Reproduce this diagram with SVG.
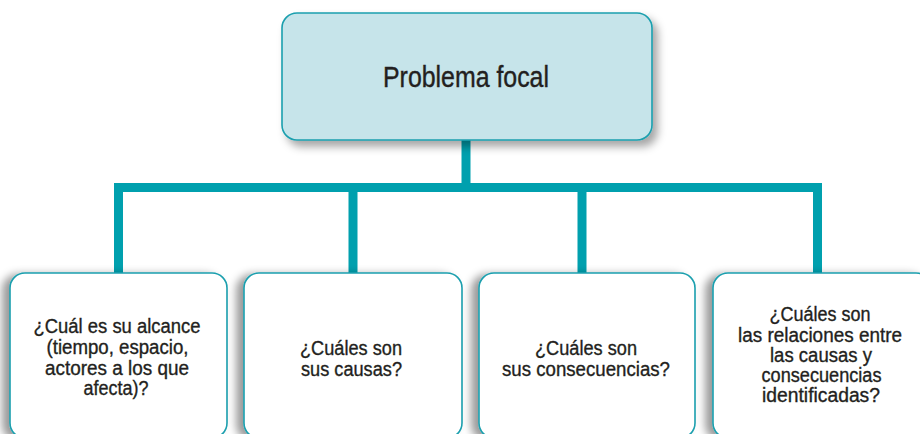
<svg xmlns="http://www.w3.org/2000/svg" width="920" height="434" viewBox="0 0 920 434">
  <defs>
    <filter id="shTop" x="-10%" y="-20%" width="130%" height="150%">
      <feGaussianBlur in="SourceAlpha" stdDeviation="4"/>
      <feOffset dx="5" dy="6" result="b"/>
      <feFlood flood-color="#000" flood-opacity="0.35"/>
      <feComposite in2="b" operator="in"/>
      <feMerge><feMergeNode/><feMergeNode in="SourceGraphic"/></feMerge>
    </filter>
    <filter id="shBot" x="-20%" y="-20%" width="140%" height="140%">
      <feGaussianBlur in="SourceAlpha" stdDeviation="4"/>
      <feOffset dx="-7" dy="2" result="b"/>
      <feFlood flood-color="#000" flood-opacity="0.4"/>
      <feComposite in2="b" operator="in"/>
      <feMerge><feMergeNode/><feMergeNode in="SourceGraphic"/></feMerge>
    </filter>
  </defs>
  <style>
    .conn { stroke: #00a0ae; stroke-width: 9; fill: none; stroke-linecap: butt; }
    .box { fill: #ffffff; stroke: #1a9fae; stroke-width: 1.6; }
    .top { fill: #c6e4ea; stroke: #1a9fae; stroke-width: 1.6; }
    .t { font-family: "Liberation Sans", Arial, sans-serif; font-size: 20px; fill: #231f20; stroke: #231f20; stroke-width: 0.35; text-anchor: middle; }
    .tt { font-family: "Liberation Sans", Arial, sans-serif; font-size: 29px; fill: #231f20; stroke: #231f20; stroke-width: 0.4; text-anchor: middle; }
  </style>
  <rect width="920" height="434" fill="#ffffff"/>
  <g id="connectors">
    <line class="conn" x1="466" y1="139" x2="466" y2="192"/>
    <line class="conn" x1="114" y1="187.5" x2="822" y2="187.5"/>
    <line class="conn" x1="118.5" y1="183" x2="118.5" y2="275"/>
    <line class="conn" x1="353" y1="183" x2="353" y2="275"/>
    <line class="conn" x1="582" y1="183" x2="582" y2="275"/>
    <line class="conn" x1="817.5" y1="183" x2="817.5" y2="275"/>
  </g>
  <g id="node-top">
    <rect class="top" x="282" y="13" width="370" height="127" rx="15" ry="15" filter="url(#shTop)"/>
    <text class="tt" x="466" y="87" textLength="166" lengthAdjust="spacingAndGlyphs">Problema focal</text>
  </g>
  <g id="node-alcance">
    <rect class="box" x="10" y="273" width="217" height="165" rx="15" ry="15" filter="url(#shBot)"/>
    <text class="t" x="117" y="333" textLength="167" lengthAdjust="spacingAndGlyphs">¿Cuál es su alcance</text>
    <text class="t" x="117.5" y="354" textLength="142" lengthAdjust="spacingAndGlyphs">(tiempo, espacio,</text>
    <text class="t" x="117" y="375" textLength="144" lengthAdjust="spacingAndGlyphs">actores a los que</text>
    <text class="t" x="116" y="395" textLength="65" lengthAdjust="spacingAndGlyphs">afecta)?</text>
  </g>
  <g id="node-causas">
    <rect class="box" x="244" y="273" width="218" height="165" rx="15" ry="15" filter="url(#shBot)"/>
    <text class="t" x="351" y="355" textLength="102" lengthAdjust="spacingAndGlyphs">¿Cuáles son</text>
    <text class="t" x="351.5" y="376" textLength="101" lengthAdjust="spacingAndGlyphs">sus causas?</text>
  </g>
  <g id="node-consecuencias">
    <rect class="box" x="479" y="273" width="216" height="165" rx="15" ry="15" filter="url(#shBot)"/>
    <text class="t" x="586" y="355" textLength="102" lengthAdjust="spacingAndGlyphs">¿Cuáles son</text>
    <text class="t" x="586" y="376" textLength="168" lengthAdjust="spacingAndGlyphs">sus consecuencias?</text>
  </g>
  <g id="node-relaciones">
    <rect class="box" x="713" y="273" width="218" height="165" rx="15" ry="15" filter="url(#shBot)"/>
    <text class="t" x="820" y="321" textLength="101" lengthAdjust="spacingAndGlyphs">¿Cuáles son</text>
    <text class="t" x="820" y="341.5" textLength="164" lengthAdjust="spacingAndGlyphs">las relaciones entre</text>
    <text class="t" x="821" y="361.5" textLength="102" lengthAdjust="spacingAndGlyphs">las causas y</text>
    <text class="t" x="821.5" y="381.5" textLength="120" lengthAdjust="spacingAndGlyphs">consecuencias</text>
    <text class="t" x="821" y="401.5" textLength="118" lengthAdjust="spacingAndGlyphs">identificadas?</text>
  </g>
</svg>
